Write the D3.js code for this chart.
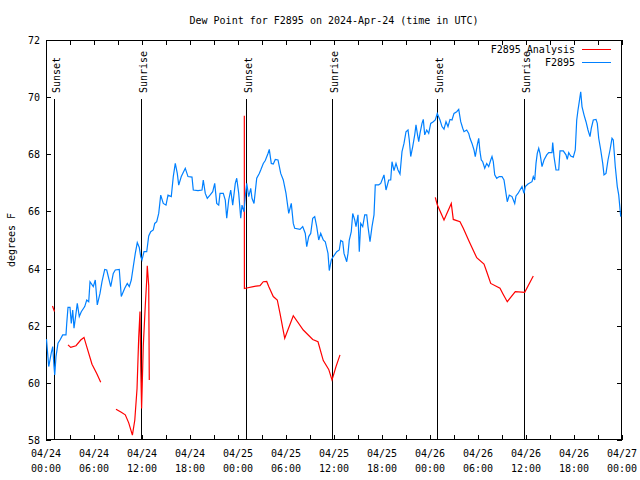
<!DOCTYPE html>
<html>
<head>
<meta charset="utf-8">
<script src="https://cdn.jsdelivr.net/npm/d3@7"></script>
<style>
  html, body { margin: 0; padding: 0; background: #fff; }
  svg { display: block; }
  text { font-family: "DejaVu Sans Mono", "Liberation Mono", monospace; font-size: 10px; fill: #000; }
</style>
</head>
<body>
<svg id="chart" width="640" height="480"></svg>
<script>
// ---- data (hours since 2024-04-24 00:00 UTC, degrees F) ----
const obsHours = [0.06,0.34,0.66,0.84,1.0,1.09,1.25,1.5,1.75,2.09,2.5,2.59,2.75,3.0,3.16,3.34,3.5,3.75,3.91,4.16,4.41,4.84,5.09,5.34,5.5,5.91,6.16,6.41,6.75,7.0,7.34,7.59,8.09,8.41,8.66,9.16,9.41,9.84,10.16,10.41,10.66,10.91,11.16,11.41,11.66,11.84,12.0,12.25,12.59,12.84,13.09,13.41,13.59,13.84,14.09,14.34,14.66,15.0,15.25,15.66,15.91,16.16,16.41,16.59,16.91,17.41,17.75,18.25,18.41,19.0,19.5,19.66,19.91,20.16,20.5,20.84,21.09,21.34,21.59,21.75,22.16,22.41,22.59,22.84,23.09,23.34,23.66,23.84,24.09,24.34,24.5,24.75,24.91,25.09,25.34,25.59,25.75,26.0,26.34,26.66,26.84,27.16,27.41,27.75,27.91,28.16,28.41,28.66,29.0,29.34,29.66,30.0,30.34,30.66,30.91,31.09,31.75,32.09,32.41,32.59,32.84,33.09,33.34,33.59,33.84,34.09,34.34,34.66,34.91,35.25,35.41,35.66,35.91,36.34,36.66,36.84,37.09,37.25,37.59,37.75,37.91,38.16,38.34,38.59,38.75,39.0,39.16,39.34,39.59,39.84,40.09,40.25,40.5,40.75,41.0,41.16,41.59,41.84,42.09,42.25,42.5,42.84,43.09,43.25,43.5,43.75,44.0,44.25,44.5,44.75,45.0,45.25,45.41,45.59,45.84,46.09,46.25,46.41,46.59,46.75,47.0,47.16,47.34,47.59,47.84,48.09,48.41,48.66,48.91,49.25,49.5,49.75,50.0,50.25,50.5,50.75,51.0,51.34,51.59,51.84,52.09,52.25,52.59,52.84,53.0,53.25,53.5,53.66,53.91,54.09,54.25,54.41,54.59,54.84,55.09,55.34,55.59,55.75,55.91,56.09,56.34,56.66,57.0,57.25,57.5,57.66,57.91,58.25,58.59,58.75,59.0,59.25,59.5,59.75,59.91,60.25,60.75,60.91,61.09,61.25,61.41,61.59,61.75,62.0,62.25,62.59,62.84,63.25,63.34,63.5,63.75,64.09,64.25,64.66,65.0,65.16,65.34,65.59,65.91,66.16,66.34,66.5,66.66,66.84,67.0,67.25,67.5,67.75,68.0,68.16,68.41,68.75,68.91,69.09,69.34,69.59,69.75,70.0,70.25,70.5,70.75,70.91,71.16,71.41,71.59,71.84];
const obsDew = [61.53,60.57,61.05,61.27,60.57,60.28,60.92,61.39,61.5,61.68,61.68,62.08,62.64,62.64,62.08,62.55,61.91,62.43,62.78,62.32,62.49,62.67,62.9,62.84,63.54,63.37,63.6,62.73,63.13,63.54,63.97,63.95,63.37,63.83,63.95,63.97,63.02,63.31,63.48,63.37,63.6,64.07,64.53,64.91,64.74,64.42,64.3,64.59,64.59,65.14,65.29,65.35,65.58,65.64,65.93,66.57,66.28,66.22,66.57,66.52,67.22,67.68,67.33,66.92,67.22,67.51,67.22,67.2,66.75,66.73,66.75,67.1,66.63,66.46,66.57,66.69,66.98,66.28,66.22,66.63,66.63,66.4,65.76,66.4,66.75,66.22,66.98,67.16,66.63,65.76,66.22,65.99,66.52,66.98,66.52,66.81,66.46,66.28,67.16,67.33,67.45,67.68,67.78,68.03,68.17,67.68,67.66,67.82,67.8,67.33,67.1,66.63,65.93,66.28,65.58,65.41,65.37,65.47,65.23,64.77,65.12,65.23,65.76,65.82,65.47,65.0,65.23,65.0,64.94,64.53,63.93,64.3,64.42,64.59,64.65,64.98,64.94,64.53,64.24,64.53,65.0,65.29,65.93,65.7,65.47,65.88,64.59,65.58,65.47,65.88,65.88,65.47,64.94,65.47,65.88,66.93,66.93,66.98,67.16,67.28,66.75,67.1,67.1,67.74,67.43,67.68,67.45,67.31,68.09,68.38,68.79,68.85,68.5,67.92,68.27,68.68,69.03,68.73,68.44,68.73,69.08,69.22,68.68,68.85,68.73,69.08,69.14,69.2,69.43,69.2,68.97,68.88,69.14,68.97,69.22,69.2,69.43,69.49,69.57,69.14,68.91,68.79,68.85,68.73,68.56,68.38,68.15,67.92,68.33,68.56,68.09,67.8,67.74,67.51,67.68,67.57,67.8,67.92,67.74,67.28,67.16,67.22,67.22,67.1,66.63,66.34,66.57,66.52,66.28,66.54,66.63,66.75,66.87,66.63,66.87,66.96,67.04,67.22,67.1,67.68,68.03,68.21,68.03,67.57,67.8,67.98,68.06,68.06,68.41,67.92,67.45,67.45,68.12,68.12,67.98,67.82,68.06,67.94,67.9,68.15,69.2,69.55,69.84,70.19,69.67,69.38,69.14,68.85,68.62,68.91,69.2,69.22,69.08,68.56,68.15,67.68,67.28,67.33,67.8,68.15,68.56,68.5,67.57,66.87,66.58,65.82];

// analysis series; null marks a gap
const anaHours = [0.81,1.06,null,2.75,3.09,3.75,4.34,4.75,5.09,5.75,6.34,6.84,null,8.75,9.41,9.91,10.34,10.8,11.1,11.38,11.59,11.75,11.84,11.95,12.16,12.41,12.59,12.66,12.84,12.91,null,24.79,24.8,25.09,25.91,26.75,27.16,27.59,27.84,28.41,28.91,29.25,29.84,30.91,32.16,33.34,34.0,34.66,35.34,35.75,36.25,36.75,null,48.66,48.91,49.75,50.66,50.91,51.75,52.16,52.91,53.84,54.75,55.09,55.59,56.75,57.09,57.66,58.66,59.84,60.91];
const anaDew = [62.69,62.5,null,61.33,61.24,61.3,61.5,61.59,61.27,60.65,60.33,60.02,null,59.08,58.97,58.88,58.6,58.17,58.7,59.8,61.6,62.5,60.6,59.1,61.3,62.7,63.6,64.1,63.4,60.1,null,69.35,63.3,63.32,63.37,63.4,63.54,63.55,63.37,63.02,62.9,62.43,61.56,62.35,61.85,61.52,61.44,60.78,60.47,60.1,60.57,60.98,null,66.49,66.23,65.7,66.28,65.72,65.64,65.41,64.94,64.38,64.16,63.89,63.48,63.31,63.13,62.84,63.19,63.17,63.74];

const sunLabels = ["Sunset","Sunrise","Sunset","Sunrise","Sunset","Sunrise"];
const sunHours = [1.04, 11.91, 25.04, 35.79, 48.91, 59.79];

const yTicks = [58,60,62,64,66,68,70,72];
const xTickHours = [0,6,12,18,24,30,36,42,48,54,60,66,72];
const seriesNames = ["F2895 Analysis", "F2895"];
const seriesColors = ["#ff0000", "#0080ff"];
const titleText = "Dew Point for F2895 on 2024-Apr-24 (time in UTC)";
const yLabelText = "degrees F";

// ---- drawing ----
const T0 = Date.UTC(2024, 3, 24, 0, 0);
const toDate = h => new Date(T0 + h * 3600e3);

const L = 46, R = 622, T = 40, B = 440;
const svg = d3.select("#chart");
const x = d3.scaleUtc().domain([toDate(0), toDate(72)]).range([L, R]);
const y = d3.scaleLinear().domain([58, 72]).range([B, T]);

const fmtDay = d3.utcFormat("%m/%d"), fmtHour = d3.utcFormat("%H:%M");

// title & y label
svg.append("text").attr("x", 334).attr("y", 24).attr("text-anchor", "middle").text(titleText);
svg.append("text").attr("transform", "translate(15,240) rotate(-90)").attr("text-anchor", "middle").text(yLabelText);

const g = svg.append("g").attr("shape-rendering", "crispEdges");

// ticks (inward, mirrored)
const minorHours = d3.range(0, 73, 3);
minorHours.forEach(h => {
  const xx = Math.round(x(toDate(h))) + 0.5;
  const len = 5;
  g.append("line").attr("x1", xx).attr("x2", xx).attr("y1", B).attr("y2", B - len).attr("stroke", "#000");
  g.append("line").attr("x1", xx).attr("x2", xx).attr("y1", T).attr("y2", T + len).attr("stroke", "#000");
});
yTicks.forEach(v => {
  const yy = Math.round(y(v)) + 0.5;
  g.append("line").attr("x1", L).attr("x2", L + 5).attr("y1", yy).attr("y2", yy).attr("stroke", "#000");
  g.append("line").attr("x1", R).attr("x2", R - 5).attr("y1", yy).attr("y2", yy).attr("stroke", "#000");
  svg.append("text").attr("x", 40).attr("y", y(v) + 4).attr("text-anchor", "end").text(String(v));
});
xTickHours.forEach(h => {
  const d = toDate(h);
  const t = svg.append("text").attr("text-anchor", "middle");
  t.append("tspan").attr("x", x(d)).attr("y", 457).text(fmtDay(d));
  t.append("tspan").attr("x", x(d)).attr("y", 472).text(fmtHour(d));
});

// sun lines
sunHours.forEach((h, i) => {
  const xx = Math.round(x(toDate(h))) + 0.5;
  g.append("line").attr("x1", xx).attr("x2", xx).attr("y1", B).attr("y2", 99).attr("stroke", "#000").attr("stroke-width", 1.2);
  svg.append("text").attr("transform", `translate(${xx + 5},93) rotate(-90)`).attr("text-anchor", "start").text(sunLabels[i]);
});

// series
const line = d3.line()
  .defined(d => d[0] !== null && d[1] !== null)
  .x(d => x(toDate(d[0])))
  .y(d => y(d[1]));

const obs = obsHours.map((h, i) => [h, obsDew[i]]);
const ana = anaHours.map((h, i) => [h, anaDew[i]]);

const clip = svg.append("clipPath").attr("id", "clip").append("rect").attr("x", L).attr("y", T).attr("width", R - L).attr("height", B - T);

svg.append("path").datum(ana).attr("d", line).attr("fill", "none").attr("stroke", seriesColors[0]).attr("stroke-width", 1.2).attr("clip-path", "url(#clip)");
svg.append("path").datum(obs).attr("d", line).attr("fill", "none").attr("stroke", seriesColors[1]).attr("stroke-width", 1.2).attr("clip-path", "url(#clip)");

// border
g.append("rect").attr("x", L + 0.5).attr("y", T + 0.5).attr("width", R - L - 1).attr("height", B - T - 1).attr("fill", "none").attr("stroke", "#000");

// legend
seriesNames.forEach((name, i) => {
  const yy = 49 + i * 13;
  svg.append("text").attr("x", 575).attr("y", yy + 4).attr("text-anchor", "end").text(name);
  g.append("line").attr("x1", 582).attr("x2", 611).attr("y1", yy + 0.5).attr("y2", yy + 0.5).attr("stroke", seriesColors[i]);
});
</script>
</body>
</html>
